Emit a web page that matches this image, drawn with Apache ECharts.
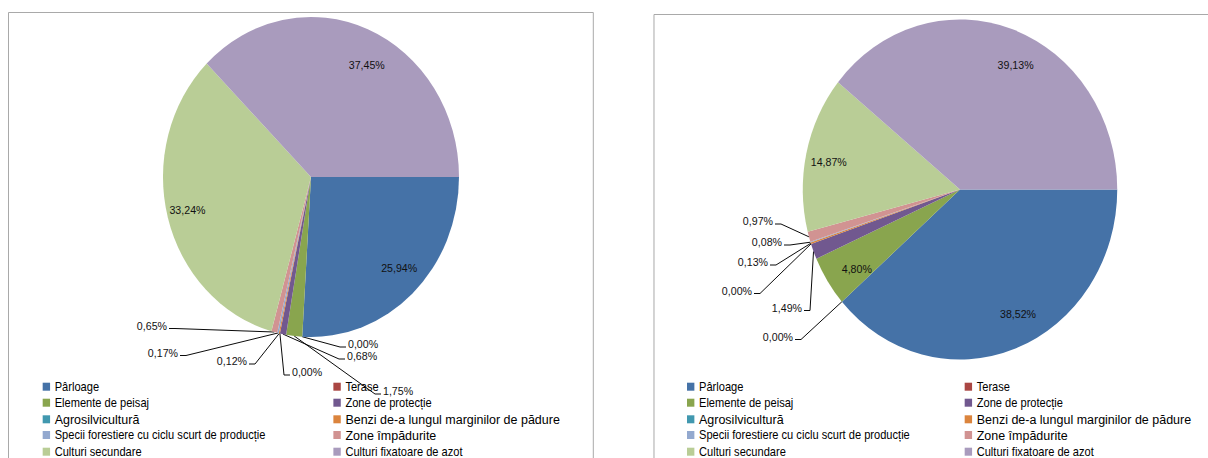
<!DOCTYPE html>
<html>
<head>
<meta charset="utf-8">
<script src="https://cdn.jsdelivr.net/npm/echarts@6/dist/echarts.min.js"></script>
<style>
html,body{margin:0;padding:0;background:#fff;overflow:hidden;width:1208px;height:458px;}
#wrap{width:1208px;height:458px;overflow:hidden;position:relative;}
#c{position:absolute;left:0;top:0;height:458px;transform-origin:0 0;}
</style>
</head>
<body>
<div id="wrap"><div id="c"></div></div>
<script>
// ---- data ----
const categories = [
  'Pârloage',
  'Terase',
  'Elemente de peisaj',
  'Zone de protecție',
  'Agrosilvicultură',
  'Benzi de-a lungul marginilor de pădure',
  'Specii forestiere cu ciclu scurt de producție',
  'Zone împădurite',
  'Culturi secundare',
  'Culturi fixatoare de azot'
];
const valuesLeft  = [25.94, 0.00, 1.75, 0.68, 0.00, 0.12, 0.17, 0.65, 33.24, 37.45];
const valuesRight = [38.52, 0.00, 4.80, 1.49, 0.00, 0.13, 0.08, 0.97, 14.87, 39.13];
const colors = ['#4572A7','#AA4643','#89A54E','#71588F','#4198AF','#DB843D','#93A9CF','#D19392','#B9CD96','#A99BBD'];
const bigLegendNames = ['Agrosilvicultură','Benzi de-a lungul marginilor de pădure','Zone împădurite'];

// ---- layout (screen px); the picture is squeezed horizontally by K ----
const K = 0.925;
const CW = 1208 / K;
const FONT = '"Liberation Sans", Arial, sans-serif';
const legendRowY = [386.7, 402.7, 419.3, 435, 451.7];
const legendTextX = [[54.7, 345.4], [699, 976.7]];   // [chart][column]
// outside label placement for small slices: [side of line, text edge x, text centre y]
const leftLabelSpots = {1:['R',348,344], 2:['R',383,391], 3:['R',347,356], 4:['R',292,372], 5:['L',247,361], 6:['L',178,352.5], 7:['L',167,325.5]};
const rightLabelSpots = {1:['L',793,336.5], 3:['L',802,307.5], 4:['L',752,290.5], 5:['L',768,262], 6:['L',782,242], 7:['L',773,221]};
// small nudges (screen px) of the inside labels, Excel "best fit" style
const leftInsideNudge = {0:[2,-8], 8:[-2,-2], 9:[7.5,13.5]};
const rightInsideNudge = {0:[11,-10], 2:[9,2], 8:[-1,3.5], 9:[11,11]};

const el = document.getElementById('c');
el.style.width = CW + 'px';
el.style.transform = 'scaleX(' + K + ')';

function fmt(v){ return v.toFixed(2).replace('.', ',') + '%'; }

function makeLayout(spots){
  return function(params){
    const s = spots[params.dataIndex];
    if (!s) return {};
    const side = s[0], tx = s[1], ty = s[2];
    const yl = ty + 3;
    const dir = side === 'L' ? 1 : -1;
    const res = { x: tx / K, y: ty, align: side === 'L' ? 'right' : 'left', verticalAlign: 'middle' };
    const pts = params.labelLinePoints;
    if (pts && pts[0]) {
      res.labelLinePoints = [[pts[0][0], pts[0][1]], [(tx + dir * 8) / K, yl], [(tx + dir * 2) / K, yl]];
    }
    return res;
  };
}

function mainSeries(values, center, R, spots){
  return {
    type: 'pie', center: center, radius: [0, R], startAngle: 0, clockwise: true,
    avoidLabelOverlap: false, silent: true, animation: false,
    emphasis: { disabled: true },
    itemStyle: { borderWidth: 0 },
    data: categories.map((name, i) => ({
      name: name, value: values[i],
      itemStyle: { color: colors[i] },
      label: { show: values[i] < 3 },
      labelLine: { show: values[i] < 3 }
    })),
    label: { position: 'outside', formatter: p => fmt(p.value), fontSize: 11.5, fontFamily: FONT, color: '#111' },
    labelLine: { length: 10, length2: 10, smooth: false, lineStyle: { color: '#000', width: 1 } },
    labelLayout: makeLayout(spots)
  };
}

function overlaySeries(values, center, R, nudge){
  return {
    type: 'pie', center: center, radius: [R * 0.66, R], startAngle: 0, clockwise: true,
    avoidLabelOverlap: false, silent: true, animation: false,
    emphasis: { disabled: true },
    data: categories.map((name, i) => ({
      name: name, value: values[i],
      itemStyle: { color: 'rgba(0,0,0,0)' },
      label: { show: values[i] >= 3 }
    })),
    label: { position: 'inside', formatter: p => fmt(p.value), fontSize: 11.5, fontFamily: FONT, color: '#111' },
    labelLine: { show: false },
    labelLayout: function(params){
      const n = nudge[params.dataIndex];
      return n ? { dx: n[0] / K, dy: n[1] } : {};
    }
  };
}

// one legend component per cell so each row sits exactly where the reference has it
function legendCell(i, textStartX, rowY){
  const big = bigLegendNames.indexOf(categories[i]) >= 0;
  return {
    orient: 'vertical', left: textStartX / K - 13, top: rowY - 8, padding: 0,
    itemWidth: 8, itemHeight: 8, itemGap: 0, icon: 'rect', selectedMode: false,
    data: [{ name: categories[i], itemStyle: { color: colors[i] } }],
    formatter: name => (big ? '{b|' + name + '}' : '{s|' + name + '}'),
    textStyle: {
      color: '#000', fontFamily: FONT, lineHeight: 16, height: 16,
      rich: {
        s: { fontSize: 12, lineHeight: 16, height: 16, fontFamily: FONT, color: '#000' },
        b: { fontSize: 13.5, lineHeight: 16, height: 16, fontFamily: FONT, color: '#000' }
      }
    }
  };
}

const legends = [];
for (let c = 0; c < 2; c++) {
  for (let i = 0; i < categories.length; i++) {
    const col = i % 2, row = Math.floor(i / 2);
    legends.push(legendCell(i, legendTextX[c][col], legendRowY[row]));
  }
}

const chart = echarts.init(el, null, { renderer: 'svg', width: CW, height: 458 });
const leftCenter = [311 / K, 177], leftR = 160;
const rightCenter = [960 / K, 189.5], rightR = 170;

chart.setOption({
  animation: false,
  backgroundColor: '#fff',
  graphic: [
    { type: 'rect', silent: true, shape: { x: 8.5 / K, y: 12.5, width: (593.3 - 8.5) / K, height: 520 },
      style: { fill: 'none', stroke: '#A6A6A6', lineWidth: 1 } },
    { type: 'rect', silent: true, shape: { x: 654 / K, y: 14.5, width: 700, height: 520 },
      style: { fill: 'none', stroke: '#A6A6A6', lineWidth: 1 } }
  ],
  legend: legends,
  series: [
    mainSeries(valuesLeft, leftCenter, leftR, leftLabelSpots),
    mainSeries(valuesRight, rightCenter, rightR, rightLabelSpots),
    overlaySeries(valuesLeft, leftCenter, leftR, leftInsideNudge),
    overlaySeries(valuesRight, rightCenter, rightR, rightInsideNudge)
  ]
});
</script>
</body>
</html>
